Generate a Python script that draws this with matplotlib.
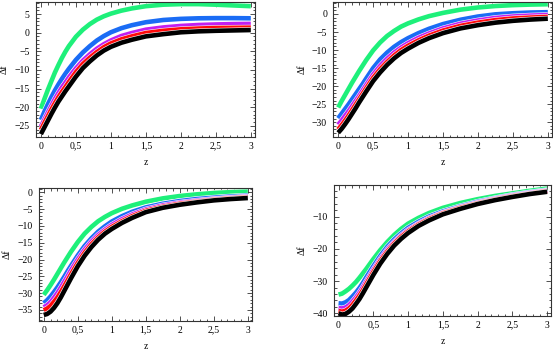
import matplotlib
matplotlib.use("Agg")
import matplotlib.pyplot as plt
import matplotlib.patheffects as pe
from matplotlib.ticker import MultipleLocator, FuncFormatter

plt.rcParams['font.family'] = ['Liberation Serif', 'DejaVu Serif']

# sample points along z (same for all panels)
z = [0, 0.05, 0.1, 0.15, 0.2, 0.25, 0.3, 0.35, 0.4, 0.5, 0.6, 0.7, 0.8, 0.9,
     1.0, 1.15, 1.3, 1.5, 1.75, 2.0, 2.25, 2.5, 2.75, 3.0]

# panel 1 (top left)
green1 = [-20.4, -17.8, -15.3, -13.0, -10.7, -8.7, -6.8, -5.1, -3.6, -1.1, 0.8, 2.3,
          3.5, 4.4, 5.1, 5.9, 6.5, 7.1, 7.5, 7.65, 7.65, 7.5, 7.3, 7.1]
blue1 = [-23.4, -21.2, -19.2, -17.3, -15.5, -13.9, -12.4, -11.0, -9.7, -7.3, -5.3, -3.6,
         -2.1, -0.9, 0.1, 1.2, 2.0, 2.8, 3.4, 3.7, 3.85, 3.9, 3.9, 3.85]
magenta1 = [-25.2, -23.3, -21.4, -19.6, -17.8, -16.2, -14.7, -13.4, -12.0, -9.6, -7.5, -5.8,
            -4.3, -3.1, -2.1, -0.9, -0.1, 0.8, 1.4, 1.8, 2.05, 2.2, 2.3, 2.35]
red1 = [-26.1, -24.2, -22.4, -20.6, -18.9, -17.3, -15.9, -14.6, -13.2, -10.6, -8.4, -6.7,
        -5.2, -3.9, -2.9, -1.8, -1.0, -0.1, 0.5, 0.9, 1.1, 1.25, 1.3, 1.35]
black1 = [-27.2, -25.4, -23.6, -21.8, -20.1, -18.5, -17.1, -15.7, -14.4, -11.8, -9.5, -7.7,
          -6.1, -4.8, -3.8, -2.7, -1.9, -1.0, -0.4, 0.1, 0.35, 0.5, 0.6, 0.7]

# panel 2 (top right)
green2 = [-25.9, -24.1, -22.4, -20.7, -19.0, -17.4, -15.8, -14.3, -12.8, -10.1, -7.9, -6.1,
          -4.7, -3.5, -2.6, -1.5, -0.6, 0.3, 1.2, 1.8, 2.2, 2.45, 2.6, 2.7]
blue2 = [-28.9, -27.6, -26.3, -25.0, -23.6, -22.2, -20.8, -19.4, -17.9, -15.0, -12.6, -10.7,
         -9.1, -7.8, -6.7, -5.3, -4.1, -2.8, -1.6, -0.7, -0.1, 0.2, 0.4, 0.5]
magenta2 = [-30.7, -29.5, -28.2, -26.9, -25.5, -24.1, -22.7, -21.2, -19.7, -16.8, -14.4, -12.4,
            -10.7, -9.3, -8.1, -6.6, -5.4, -4.0, -2.7, -1.8, -1.1, -0.7, -0.45, -0.3]
red2 = [-32.0, -30.8, -29.5, -28.1, -26.6, -25.1, -23.6, -22.1, -20.6, -17.7, -15.3, -13.3,
        -11.5, -10.0, -8.8, -7.3, -6.0, -4.6, -3.3, -2.4, -1.7, -1.25, -1.0, -0.8]
black2 = [-32.9, -31.8, -30.5, -29.1, -27.6, -26.1, -24.5, -23.0, -21.5, -18.6, -16.2, -14.1,
          -12.3, -10.8, -9.6, -8.0, -6.7, -5.3, -4.0, -3.1, -2.4, -1.9, -1.55, -1.3]

# panel 3 (bottom left)
green3 = [-30.5, -29.1, -27.6, -26.0, -24.3, -22.6, -20.9, -19.3, -17.7, -14.8, -12.3, -10.3,
          -8.6, -7.3, -6.2, -4.9, -3.9, -2.8, -1.8, -1.1, -0.6, -0.2, 0.05, 0.2]
blue3 = [-33.0, -32.1, -31.0, -29.7, -28.3, -26.8, -25.2, -23.5, -21.9, -18.8, -16.0, -13.7,
         -11.7, -10.1, -8.7, -7.1, -5.8, -4.5, -3.4, -2.6, -2.0, -1.6, -1.25, -1.0]
magenta3 = [-34.2, -33.6, -32.7, -31.4, -30.0, -28.4, -26.7, -25.0, -23.2, -20.0, -17.1, -14.7,
            -12.7, -11.1, -9.7, -8.0, -6.6, -5.1, -3.9, -3.1, -2.5, -2.0, -1.6, -1.3]
red3 = [-35.1, -34.6, -33.8, -32.6, -31.3, -29.7, -28.0, -26.2, -24.4, -21.0, -18.0, -15.5,
        -13.4, -11.7, -10.3, -8.6, -7.1, -5.5, -4.3, -3.4, -2.8, -2.2, -1.8, -1.5]
black3 = [-36.5, -36.2, -35.5, -34.4, -33.0, -31.3, -29.4, -27.5, -25.6, -22.0, -18.9, -16.3,
          -14.1, -12.3, -10.9, -9.1, -7.6, -5.9, -4.6, -3.7, -3.0, -2.4, -2.0, -1.7]

# panel 4 (bottom right)
green4 = [-34.2, -33.9, -33.2, -32.4, -31.4, -30.3, -29.0, -27.6, -26.2, -23.2, -20.4, -17.9,
          -15.7, -13.8, -12.2, -10.4, -8.9, -7.3, -5.8, -4.6, -3.6, -2.8, -2.0, -1.3]
blue4 = [-36.9, -37.0, -36.6, -35.9, -34.8, -33.6, -32.2, -30.6, -28.8, -25.4, -22.2, -19.4,
         -17.1, -15.2, -13.5, -11.6, -10.0, -8.4, -6.8, -5.4, -4.3, -3.3, -2.5, -1.8]
magenta4 = [-38.4, -38.5, -38.2, -37.5, -36.4, -35.1, -33.6, -31.9, -30.1, -26.5, -23.2, -20.3,
            -17.9, -15.9, -14.2, -12.2, -10.5, -8.8, -7.1, -5.7, -4.5, -3.5, -2.7, -2.0]
red4 = [-39.3, -39.5, -39.2, -38.5, -37.4, -36.0, -34.5, -32.8, -30.9, -27.2, -23.8, -20.9,
        -18.4, -16.3, -14.6, -12.5, -10.8, -9.0, -7.3, -5.9, -4.7, -3.7, -2.9, -2.1]
black4 = [-40.0, -40.4, -40.2, -39.5, -38.5, -37.1, -35.6, -33.8, -31.9, -28.1, -24.6, -21.6,
          -19.0, -16.9, -15.1, -12.9, -11.2, -9.3, -7.6, -6.1, -4.9, -3.9, -3.0, -2.3]

colors = ['#1ef07a', '#1a6cf5', '#c21ff2', '#ff0a0a', '#000000']

panels = [
    ([green1, blue1, magenta1, red1, black1], (-27.9, 8.3), 5, 1),
    ([green2, blue2, magenta2, red2, black2], (-34.0, 3.4), 5, 1),
    ([green3, blue3, magenta3, red3, black3], (-38.2, 1.2), 5, 1),
    ([green4, blue4, magenta4, red4, black4], (-40.75, -0.2), 10, 2),
]
# axes rectangles in figure fractions
rects = [
    [0.0651, 0.6083, 0.3960, 0.3868],
    [0.6027, 0.6083, 0.3955, 0.3868],
    [0.0705, 0.0811, 0.3850, 0.3794],
    [0.6034, 0.0954, 0.3935, 0.3745],
]


def comma(v, pos):
    s = ('%g' % v).replace('.', ',')
    return s.replace('-', '\u2212')


fig = plt.figure(figsize=(5.53, 3.49), dpi=100)
for (curves, ylim, major, minor), rect in zip(panels, rects):
    ax = fig.add_axes(rect)
    for c, y in zip(colors, curves):
        ax.plot(z, y, color=c, lw=3.3, solid_capstyle='butt', solid_joinstyle='round',
                path_effects=[pe.Stroke(linewidth=4.1, foreground='white'), pe.Normal()])
    ax.set_xlim(-0.07, 3.06)
    ax.set_ylim(*ylim)
    ax.xaxis.set_major_locator(MultipleLocator(0.5))
    ax.xaxis.set_minor_locator(MultipleLocator(0.1))
    ax.yaxis.set_major_locator(MultipleLocator(major))
    ax.yaxis.set_minor_locator(MultipleLocator(minor))
    ax.xaxis.set_major_formatter(FuncFormatter(comma))
    ax.yaxis.set_major_formatter(FuncFormatter(comma))
    ax.tick_params(which='both', direction='in', top=True, right=True,
                   labelsize=7, color='#333333', width=0.6)
    ax.tick_params(axis='x', pad=3.5)
    ax.tick_params(axis='y', pad=4.5)
    ax.tick_params(which='major', length=3.5)
    ax.tick_params(which='minor', length=1.8)
    for s in ax.spines.values():
        s.set_linewidth(0.8)
        s.set_color('#333333')
    ax.set_xlabel('z', fontsize=7, labelpad=5)
    ax.set_ylabel('\u0394f', fontsize=7, labelpad=4)

fig.savefig('out.png', dpi=100)
